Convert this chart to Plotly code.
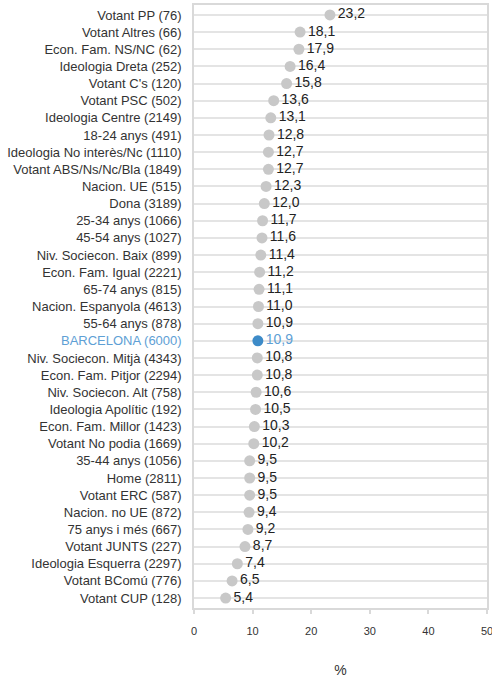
import plotly.graph_objects as go

categories = [
    "Votant PP (76)", "Votant Altres (66)", "Econ. Fam. NS/NC (62)", "Ideologia Dreta (252)",
    "Votant C's (120)", "Votant PSC (502)", "Ideologia Centre (2149)", "18-24 anys (491)",
    "Ideologia No interès/Nc (1110)", "Votant ABS/Ns/Nc/Bla (1849)", "Nacion. UE (515)",
    "Dona (3189)", "25-34 anys (1066)", "45-54 anys (1027)", "Niv. Sociecon. Baix (899)",
    "Econ. Fam. Igual (2221)", "65-74 anys (815)", "Nacion. Espanyola (4613)", "55-64 anys (878)",
    "BARCELONA (6000)", "Niv. Sociecon. Mitjà (4343)", "Econ. Fam. Pitjor (2294)",
    "Niv. Sociecon. Alt (758)", "Ideologia Apolític (192)", "Econ. Fam. Millor (1423)",
    "Votant No podia (1669)", "35-44 anys (1056)", "Home (2811)", "Votant ERC (587)",
    "Nacion. no UE (872)", "75 anys i més (667)", "Votant JUNTS (227)",
    "Ideologia Esquerra (2297)", "Votant BComú (776)", "Votant CUP (128)",
]
values = [
    23.2, 18.1, 17.9, 16.4, 15.8, 13.6, 13.1, 12.8, 12.7, 12.7, 12.3,
    12.0, 11.7, 11.6, 11.4, 11.2, 11.1, 11.0, 10.9, 10.9, 10.8, 10.8,
    10.6, 10.5, 10.3, 10.2, 9.5, 9.5, 9.5, 9.4, 9.2, 8.7, 7.4, 6.5, 5.4,
]
highlight = "BARCELONA (6000)"
x_ticks = [0, 10, 20, 30, 40, 50]

GREY_DOT = "#c8c8c8"
BLUE_DOT = "#3d8bc8"
BLUE_TXT = "#5ea0d5"

dot_colors = [BLUE_DOT if c == highlight else GREY_DOT for c in categories]
txt_colors = [BLUE_TXT if c == highlight else "#222222" for c in categories]
ticktext = [f"<span style='color:{BLUE_TXT}'>{c}</span>" if c == highlight else c for c in categories]

fig = go.Figure()
fig.add_trace(go.Scatter(
    x=values, y=categories, mode="markers+text",
    marker=dict(size=11, color=dot_colors),
    texttemplate="%{x:.1f}", textposition="middle right",
    textfont=dict(size=14, color=txt_colors, family="Liberation Sans, Arial, sans-serif"),
    cliponaxis=False, hoverinfo="skip", showlegend=False,
))

fig.update_layout(
    width=492, height=678,
    margin=dict(l=194, r=5, t=5, b=70),
    paper_bgcolor="white", plot_bgcolor="white",
    separators=",.",
    font=dict(family="Liberation Sans, Arial, sans-serif", color="#333333"),
    xaxis=dict(
        range=[0, 50], tickvals=x_ticks, showgrid=False, zeroline=False,
        showline=True, mirror=True, linecolor="#d9d9d9", linewidth=1.5,
        ticks="outside", ticklen=4, tickcolor="#d9d9d9", tickwidth=1.5,
        tickfont=dict(size=11, color="#333333"), ticklabelstandoff=8,
        ticklabeloverflow="allow",
        title=dict(text="%", font=dict(size=14, color="#333333"), standoff=32),
        fixedrange=True, automargin=False,
    ),
    yaxis=dict(
        type="category", categoryorder="array", categoryarray=categories,
        tickvals=categories, ticktext=ticktext,
        range=[34.58, -0.58],
        showgrid=True, gridcolor="#e4e4e4", gridwidth=1.5,
        showline=True, mirror=True, linecolor="#d9d9d9", linewidth=1.5,
        ticks="", ticklabelstandoff=8,
        tickfont=dict(size=13, color="#333333"),
        zeroline=False, fixedrange=True, automargin=False,
    ),
)

fig.write_html(
    "out.html",
    config={"displayModeBar": False},
    post_script="document.body.style.margin='0';document.body.style.padding='0';",
)
